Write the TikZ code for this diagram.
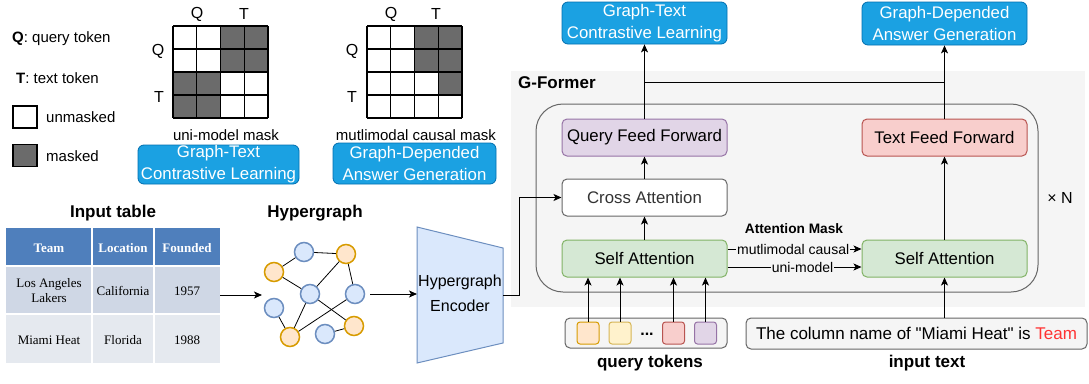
\documentclass[tikz,border=0pt]{standalone}
\usepackage{fontspec}
\setmainfont{Liberation Sans}
\newfontfamily\tabfont{Liberation Serif}
\newfontfamily\plainsans{Liberation Sans}[Ligatures=ResetAll]
\usetikzlibrary{arrows.meta,calc}
\definecolor{bgg}{HTML}{F5F5F5}
\definecolor{bluebox}{HTML}{1BA1E2}
\definecolor{blueboxd}{HTML}{006EAF}
\definecolor{purf}{HTML}{E1D5E7}\definecolor{purd}{HTML}{9673A6}
\definecolor{redf}{HTML}{F8CECC}\definecolor{redd}{HTML}{B85450}
\definecolor{grnf}{HTML}{D5E8D4}\definecolor{grnd}{HTML}{82B366}
\definecolor{orf}{HTML}{FFE6CC}\definecolor{ord}{HTML}{D79B00}
\definecolor{yelf}{HTML}{FFF2CC}\definecolor{yeld}{HTML}{D6B656}
\definecolor{bluf}{HTML}{DAE8FC}\definecolor{blud}{HTML}{6C8EBF}
\definecolor{gry}{HTML}{666666}
\definecolor{dtext}{HTML}{333333}
\definecolor{maskc}{HTML}{6B6B6B}
\definecolor{thead}{HTML}{4F7FBC}
\definecolor{trowa}{HTML}{CFD7E5}
\definecolor{trowb}{HTML}{E5E9EF}
\definecolor{textred}{HTML}{FF3333}
\tikzset{
  arr/.style={-{Stealth[length=8pt,width=7pt,inset=2pt]}, line width=1pt},
  ln/.style={line width=1pt},
  blk/.style={rounded corners=5pt, draw, line width=1pt, minimum width=165pt, minimum height=37pt, inner sep=0pt, font=\fontsize{16.8}{20}\selectfont},
  task/.style={rounded corners=6pt, draw=blueboxd, line width=0.8pt, fill=bluebox, text=white, align=center, inner sep=0pt, font=\fontsize{16.8}{22}\selectfont},
  lbl/.style={inner sep=0pt, font=\fontsize{15}{18}\selectfont},
  lblb/.style={inner sep=0pt, font=\fontsize{17}{20}\selectfont\bfseries},
  mlbl/.style={inner sep=0pt, font=\fontsize{16}{18}\selectfont},
  legsq/.style={draw, line width=1.2pt, minimum width=24pt, minimum height=22pt, inner sep=0pt},
  tok/.style={rounded corners=3pt, line width=1pt, minimum width=22pt, minimum height=22pt, inner sep=0pt},
  hb/.style={circle, draw=blud, fill=bluf, line width=1.5pt, minimum size=19pt, inner sep=0pt},
  ho/.style={circle, draw=ord, fill=orf, line width=1.5pt, minimum size=19pt, inner sep=0pt},
  hedge/.style={line width=0.8pt},
  tcell/.style={inner sep=0pt, align=center, font=\fontsize{13}{15}\selectfont\tabfont},
  thcell/.style={inner sep=0pt, align=center, text=white, font=\fontsize{13}{15}\selectfont\tabfont\bfseries},
  inbox/.style={rounded corners=5pt, draw=gry, fill=bgg, line width=1pt, inner sep=0pt},
}
\begin{document}
\begin{tikzpicture}[x=1pt,y=-1pt]
\useasboundingbox (0,0) rectangle (1089,383);

% ---------- legend ----------
\node[lbl, anchor=west] (lq) at (12,39) {\textbf{Q}: query token};
\node[lbl, anchor=west] (lt) at (16,78) {\textbf{T}: text token};
\node[legsq, fill=white] (squ) at (25,117) {};
\node[legsq, fill=maskc] (sqm) at (25,155.5) {};
\node[lbl, anchor=west] (lu) at (46,117) {unmasked};
\node[lbl, anchor=west] (lm) at (46,156) {masked};

% ---------- mask matrices ----------
\foreach \r/\c in {0/2,0/3,1/2,1/3,2/0,2/1,3/0,3/1}
  \fill[maskc] ({173+\c*23.75},{26+\r*23}) rectangle ++(23.75,23);
\foreach \i in {0,...,4} {
  \draw[line width=1.2pt] ({173+\i*23.75},26) -- ++(0,92);
  \draw[line width=1.2pt] (173,{26+\i*23}) -- ++(95,0);
}
\foreach \r/\c in {0/2,0/3,1/2,1/3,2/3}
  \fill[maskc] ({367+\c*23.75},{26+\r*23}) rectangle ++(23.75,23);
\foreach \i in {0,...,4} {
  \draw[line width=1.2pt] ({367+\i*23.75},26) -- ++(0,92);
  \draw[line width=1.2pt] (367,{26+\i*23}) -- ++(95,0);
}
\node[mlbl] (m1q) at (197,14) {Q};
\node[mlbl] (m1t) at (244,14) {T};
\node[mlbl] (m1lq) at (158,51) {Q};
\node[mlbl] (m1lt) at (159,97) {T};
\node[mlbl] (m2q) at (391,14) {Q};
\node[mlbl] (m2t) at (436,14) {T};
\node[mlbl] (m2lq) at (352,51) {Q};
\node[mlbl] (m2lt) at (352,97) {T};
\node[lbl] (cap1) at (226,135) {uni-model mask};
\node[lbl] (cap2) at (416,135) {mutlimodal causal mask};
\node[task, minimum width=161pt, minimum height=39pt] (gtcls) at (218.5,164.5) {Graph-Text\\Contrastive Learning};
\node[task, minimum width=163pt, minimum height=41pt] (gdags) at (414.5,163.5) {Graph-Depended\\Answer Generation};

% ---------- input table ----------
\node[lblb] (ttl) at (113,213) {Input table};
\fill[thead] (6,228) rectangle (220,266);
\fill[trowa] (6,266) rectangle (220,314);
\fill[trowb] (6,314) rectangle (220,363);
\draw[white, line width=1.5pt] (92,228) -- (92,363) (154,228) -- (154,363) (6,266) -- (220,266) (6,314) -- (220,314);
\node[thcell] (h1) at (49,248) {Team};
\node[thcell] (h2) at (123,248) {Location};
\node[thcell] (h3) at (187,248) {Founded};
\node[tcell] (c11) at (49,291) {Los Angeles\\Lakers};
\node[tcell] (c12) at (123,291) {California};
\node[tcell] (c13) at (187,291) {1957};
\node[tcell] (c21) at (49,340) {Miami Heat};
\node[tcell] (c22) at (123,340) {Florida};
\node[tcell] (c23) at (187,340) {1988};
\node[minimum width=214pt, minimum height=135pt, inner sep=0pt] (tbl) at (113,295) {};

% ---------- hypergraph ----------
\node[lblb] (hgt) at (315,213) {Hypergraph};
\node[hb] (n1) at (304,252) {};
\node[ho] (n2) at (346,254) {};
\node[ho] (n3) at (274,272) {};
\node[hb] (n4) at (310,294) {};
\node[hb] (n5) at (355,294) {};
\node[hb] (n6) at (274,308) {};
\node[ho] (n7) at (290,337) {};
\node[hb] (n8) at (325,334) {};
\node[ho] (n9) at (354,326) {};
\foreach \a/\b in {n1/n2,n3/n1,n3/n4,n4/n2,n2/n5,n4/n7,n6/n7,n7/n5,n4/n9,n8/n9}
  \draw[hedge] (\a) -- (\b);
\coordinate (hgin) at (262,295);
\coordinate (hgout) at (370,294);
\draw[arr] (tbl.east) -- (hgin);

% ---------- encoder ----------
\draw[draw=blud, fill=bluf, line width=1pt] (417,227) -- (503,248) -- (503,343) -- (417,363) -- cycle;
\node[inner sep=0pt, align=center, font=\fontsize{16}{25}\selectfont] (enc) at (460,293) {Hypergraph\\Encoder};
\coordinate (encL) at (417,294);
\coordinate (encR) at (503,295);
\draw[arr] (hgout) -- (encL);

% ---------- G-Former ----------
\fill[bgg] (511,71) rectangle (1085,307);
\node[lblb, anchor=west] (gf) at (518,83) {G-Former};
\draw[gry, line width=1pt, rounded corners=27pt] (536,104) rectangle (1038,292);

\node[task, minimum width=165pt, minimum height=42pt] (gtcl) at (644.5,23) {Graph-Text\\Contrastive Learning};
\node[task, minimum width=165pt, minimum height=43pt] (gdag) at (944.5,23.5) {Graph-Depended\\Answer Generation};

\node[blk, draw=purd, fill=purf] (qff) at (644.5,137.5) {Query Feed Forward};
\node[blk, draw=redd, fill=redf] (tff) at (944.5,137.5) {Text Feed Forward};
\node[blk, draw=gry, fill=white, text=dtext] (ca) at (644.5,197.5) {Cross Attention};
\node[blk, draw=grnd, fill=grnf] (sal) at (644.5,258.5) {Self Attention};
\node[blk, draw=grnd, fill=grnf] (sar) at (944.5,258.5) {Self Attention};
\node[mlbl] (xn) at (1060,198) {× N};

\coordinate (jn) at (944.5,82);
\draw[arr] (qff.north) -- (gtcl.south);
\draw[ln] (qff.north |- jn) -- (jn);
\draw[arr] (tff.north) -- (gdag.south);
\draw[arr] (ca.north) -- (qff.south);
\draw[arr] (sal.north) -- (ca.south);
\draw[arr] (sar.north) -- (tff.south);
\draw[arr] (encR) -- (519,295) |- (ca.west);

\node[inner sep=0pt, font=\fontsize{13.7}{16}\selectfont\bfseries] (am) at (794,229) {Attention Mask};
\draw[arr] ([yshift=9.5pt]sal.east) -- node[fill=bgg, inner sep=1pt, font=\fontsize{14}{16}\selectfont, pos=0.49] (lmc) {mutlimodal causal} ([yshift=9.5pt]sar.west);
\draw[arr] ([yshift=-8.5pt]sal.east) -- node[fill=bgg, inner sep=1pt, font=\fontsize{14}{16}\selectfont, pos=0.56] (lum) {uni-model} ([yshift=-8.5pt]sar.west);

% ---------- inputs ----------
\node[inbox, minimum width=162pt, minimum height=30pt] (qbox) at (646,333) {};
\node[tok, draw=ord, fill=orf] (t1) at (588,333) {};
\node[tok, draw=yeld, fill=yelf] (t2) at (620,333) {};
\node[inner sep=0pt, font=\fontsize{16}{18}\selectfont\bfseries] (dots) at (647,334) {...};
\node[tok, draw=redd, fill=redf] (t3) at (673.5,333) {};
\node[tok, draw=purd, fill=purf] (t4) at (705.5,333) {};
\foreach \t in {t1,t2,t3,t4}
  \draw[arr] (\t.north) -- (\t.north |- sal.south);
\node[lblb] (qtl) at (650,363) {query tokens};

\node[inbox, minimum width=341pt, minimum height=31pt, font=\fontsize{17}{20}\selectfont\plainsans] (itx) at (916.5,333.5) {The column name of "Miami Heat" is \textcolor{textred}{Team}};
\draw[arr] (sar.south |- itx.north) -- (sar.south);
\node[lblb] (itl) at (927,363) {input text};
\end{tikzpicture}
\end{document}
